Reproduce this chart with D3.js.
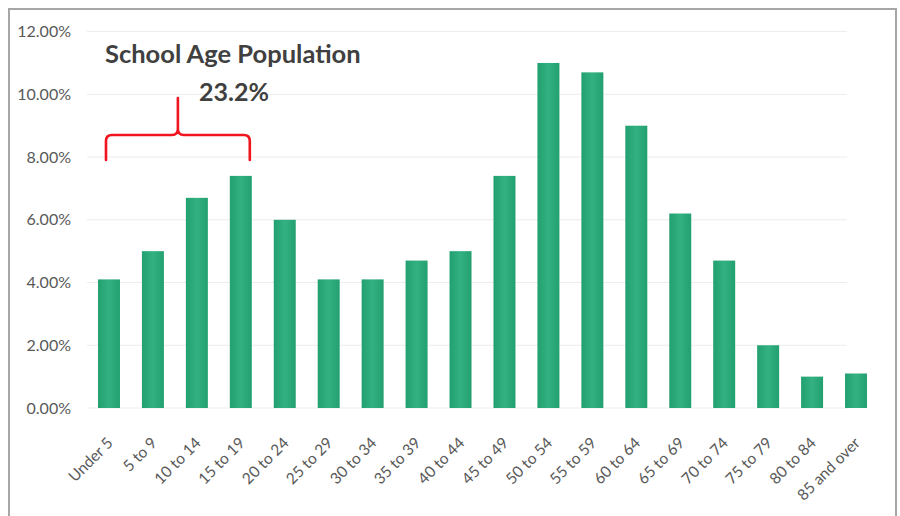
<!DOCTYPE html>
<html>
<head>
<meta charset="utf-8">
<script src="https://cdn.jsdelivr.net/npm/d3@7/dist/d3.min.js"></script>
<style>
  html, body { margin: 0; padding: 0; background: #fff; }
  svg { display: block; }
  text { font-family: Lato, "Noto Sans", sans-serif; }
</style>
</head>
<body>
<svg id="chart" width="900" height="516"></svg>
<script>
// Population share by age group (percent)
const ageGroups = ["Under 5", "5 to 9", "10 to 14", "15 to 19", "20 to 24", "25 to 29",
  "30 to 34", "35 to 39", "40 to 44", "45 to 49", "50 to 54", "55 to 59",
  "60 to 64", "65 to 69", "70 to 74", "75 to 79", "80 to 84", "85 and over"];
const shares = [4.1, 5.0, 6.7, 7.4, 6.0, 4.1, 4.1, 4.7, 5.0, 7.4, 11.0, 10.7, 9.0, 6.2, 4.7, 2.0, 1.0, 1.1];
const yTicks = [0, 2, 4, 6, 8, 10, 12];
const schoolGroups = ["Under 5", "5 to 9", "10 to 14", "15 to 19"];
const calloutTitle = "School Age Population";

const svg = d3.select("#chart");

// outer frame
svg.append("rect").attr("x", 9).attr("y", 9).attr("width", 887).attr("height", 520)
  .attr("fill", "#fff").attr("stroke", "#a6a6a6").attr("stroke-width", 2);

const plotLeft = 87, plotRight = 878, plotTop = 31.6, plotBottom = 408;

const x = d3.scaleBand().domain(ageGroups).range([plotLeft, plotRight]).paddingInner(0.5).paddingOuter(0.25);
const y = d3.scaleLinear().domain([0, 12]).range([plotBottom, plotTop]);

// gridlines
svg.append("g").selectAll("line").data(yTicks).join("line")
  .attr("x1", plotLeft).attr("x2", 847)
  .attr("y1", d => y(d)).attr("y2", d => y(d))
  .attr("stroke", "#ececec").attr("stroke-width", 1);

// y axis labels
const yAxis = d3.axisLeft(y).tickValues(yTicks).tickSize(0).tickPadding(0)
  .tickFormat(d => d3.format(".2f")(d) + "%");
const yg = svg.append("g").attr("transform", `translate(71,0)`).call(yAxis);
yg.select(".domain").remove();
yg.selectAll("text").attr("fill", "#595959").style("font-size", "16px")
  .style("font-family", "Lato, sans-serif");

// bars
const grad = svg.append("defs").append("linearGradient").attr("id", "barFill")
  .attr("x1", 0).attr("x2", 1).attr("y1", 0).attr("y2", 0);
grad.append("stop").attr("offset", "0%").attr("stop-color", "#22a06f");
grad.append("stop").attr("offset", "50%").attr("stop-color", "#33b182");
grad.append("stop").attr("offset", "100%").attr("stop-color", "#22a06f");

svg.append("g").selectAll("rect").data(shares).join("rect")
  .attr("x", (d, i) => x(ageGroups[i]))
  .attr("width", x.bandwidth())
  .attr("y", d => y(d))
  .attr("height", d => y(0) - y(d))
  .attr("fill", "url(#barFill)");

// x axis labels
const xAxis = d3.axisBottom(x).tickSize(0).tickPadding(0);
const xg = svg.append("g").attr("transform", `translate(0,${plotBottom})`).call(xAxis);
xg.select(".domain").remove();
xg.selectAll("text")
  .attr("fill", "#595959").style("font-size", "15.5px").style("font-family", "Lato, sans-serif")
  .attr("text-anchor", "end").attr("dy", null).attr("y", 0)
  .attr("transform", "translate(5,36) rotate(-45)");

// callout bracket over the school-age groups
const bx0 = x(schoolGroups[0]) + 8;
const bx1 = x(schoolGroups[schoolGroups.length - 1]) + x.bandwidth() - 2;
const bmid = (bx0 + bx1) / 2;
const by = 135, bEnd = 160, bTip = 98, r = 6;
const brace = d3.path();
brace.moveTo(bx0, bEnd);
brace.lineTo(bx0, by + r);
brace.quadraticCurveTo(bx0, by, bx0 + r, by);
brace.lineTo(bmid - r, by);
brace.quadraticCurveTo(bmid, by, bmid, by - r);
brace.lineTo(bmid, bTip);
brace.moveTo(bmid, by - r);
brace.quadraticCurveTo(bmid, by, bmid + r, by);
brace.lineTo(bx1 - r, by);
brace.quadraticCurveTo(bx1, by, bx1, by + r);
brace.lineTo(bx1, bEnd);
svg.append("path").attr("d", brace.toString()).attr("fill", "none")
  .attr("stroke", "#f0141e").attr("stroke-width", 2.6).attr("stroke-linecap", "round");

const total = d3.sum(schoolGroups, g => shares[ageGroups.indexOf(g)]);
svg.append("text").attr("x", 105).attr("y", 63).text(calloutTitle)
  .attr("fill", "#404040").style("font-weight", "bold").style("font-size", "25.5px");
svg.append("text").attr("x", 234).attr("y", 101).attr("text-anchor", "middle")
  .text(d3.format(".1f")(total) + "%")
  .attr("fill", "#404040").style("font-weight", "bold").style("font-size", "25px");
</script>
</body>
</html>
